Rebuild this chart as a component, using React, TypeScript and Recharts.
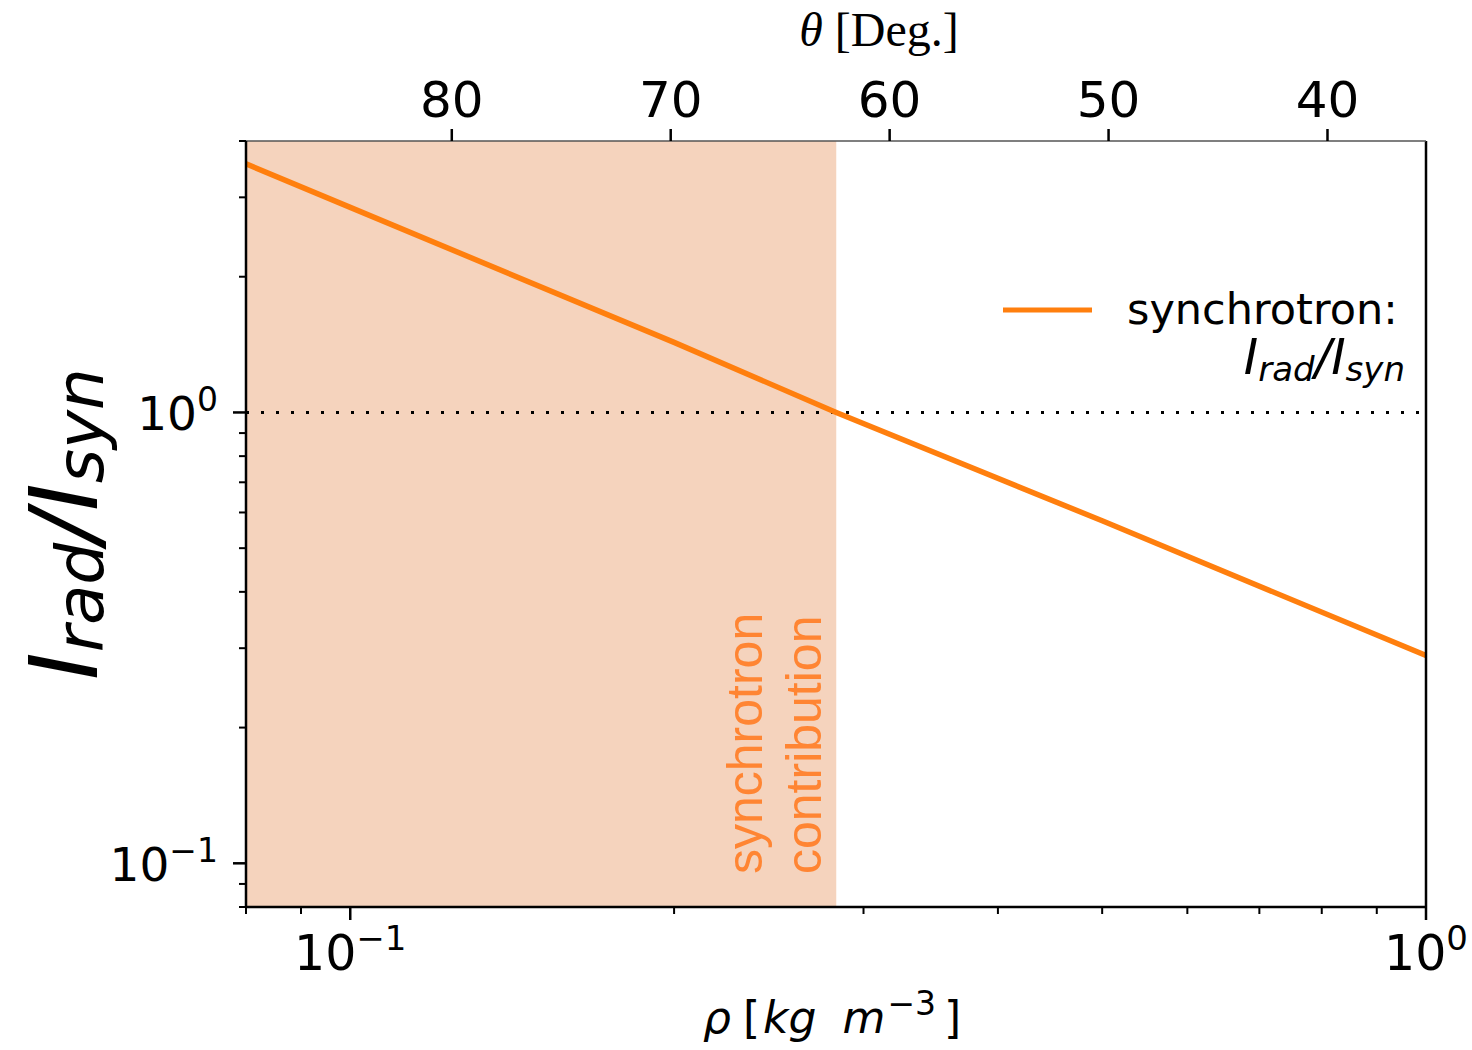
import React from 'react';
import { ComposedChart, Line, XAxis, YAxis, ReferenceArea, ReferenceLine, Legend } from 'recharts';

// ---- data ----
const rhoValues = [0.08, 0.1, 0.2, 0.283, 0.5, 1.0];
const ratioValues = [3.56, 2.85, 1.43, 1.0, 0.575, 0.289];
const xTicks = [0.08, 0.09, 0.1, 0.2, 0.3, 0.4, 0.5, 0.6, 0.7, 0.8, 0.9, 1];
const yTicks = [0.08, 0.09, 0.1, 0.2, 0.3, 0.4, 0.5, 0.6, 0.7, 0.8, 0.9, 1, 2, 3, 4];
const thetaTicks = [80, 70, 60, 50, 40];
const thetaDomain = [35.5, 89.4];
const xDomain = [0.08, 1];
const yDomain = [0.08, 4];
const synchrotronEdge = 0.283;
const unityLevel = 1;

const data = rhoValues.map((r, i) => ({ rho: r, ratio: ratioValues[i] }));
// helper rows that only anchor the secondary (top) theta axis
const thetaAnchor = thetaDomain.map((t) => ({ theta: t, anchor: unityLevel }));

const ORANGE = '#ff7f0e';
const SANS = 'DejaVu Sans';

const supText = (n: number) => (n < 0 ? '\u2212' + Math.abs(n) : String(n));
const isMajor = (v: number) => {
  const e = Math.log10(v);
  return Math.abs(e - Math.round(e)) < 1e-9;
};

function BottomTick(props: any) {
  const { x, y, payload } = props;
  const v = payload.value;
  const major = isMajor(v);
  const e = Math.round(Math.log10(v));
  return (
    <g>
      <line x1={x} x2={x} y1={y} y2={y + (major ? 13 : 7)} stroke="#000" strokeWidth={major ? 2.5 : 2} />
      {major && (
        <text x={x} y={y + 63} textAnchor="middle" fontFamily={SANS} fontSize={49} fill="#000">
          10<tspan fontSize={34} dy={-20}>{supText(e)}</tspan>
        </text>
      )}
    </g>
  );
}

function LeftTick(props: any) {
  const { x, y, payload } = props;
  const v = payload.value;
  const major = isMajor(v);
  const e = Math.round(Math.log10(v));
  return (
    <g>
      <line x1={x - (major ? 13 : 7)} x2={x} y1={y} y2={y} stroke="#000" strokeWidth={major ? 2.5 : 2} />
      {major && (
        <text x={x - 28} y={y + 18} textAnchor="end" fontFamily={SANS} fontSize={47} fill="#000">
          10<tspan fontSize={33} dy={-19}>{supText(e)}</tspan>
        </text>
      )}
    </g>
  );
}

function TopTick(props: any) {
  const { x, y, payload } = props;
  return (
    <g>
      <line x1={x} x2={x} y1={y - 12} y2={y} stroke="#000" strokeWidth={2.5} />
      <text x={x} y={y - 24} textAnchor="middle" fontFamily={SANS} fontSize={50} fill="#000">
        {payload.value}
      </text>
    </g>
  );
}

function YLabel(props: any) {
  const vb = props.viewBox || { x: 146, y: 141, width: 100, height: 766 };
  const cx = 97;
  const cy = vb.y + vb.height / 2;
  return (
    <text
      x={cx}
      y={cy}
      transform={`rotate(-90 ${cx} ${cy})`}
      textAnchor="middle"
      fontFamily={SANS}
      fontStyle="italic"
      fontSize={94}
      fill="#000"
    >
      I<tspan fontSize={66} dy={6}>rad</tspan>
      <tspan dy={-6}>/I</tspan>
      <tspan fontSize={66} dy={6}>syn</tspan>
    </text>
  );
}

function XLabel() {
  return (
    <text x={703} y={1033} textAnchor="start" fontFamily={SANS} fontSize={44} fill="#000">
      <tspan fontStyle="italic">ρ</tspan>
      <tspan dx={12}>[</tspan>
      <tspan fontStyle="italic" dx={3}>kg</tspan>
      <tspan fontStyle="italic" dx={26}>m</tspan>
      <tspan fontSize={33} dx={2} dy={-18}>−3</tspan>
      <tspan dx={8} dy={18}>]</tspan>
    </text>
  );
}

function TopLabel() {
  return (
    <text x={879} y={46} textAnchor="middle" fontFamily="Liberation Serif" fontSize={48} fill="#000">
      <tspan fontStyle="italic">θ</tspan>
      <tspan> [Deg.]</tspan>
    </text>
  );
}

function AreaLabel(props: any) {
  const vb = props.viewBox || { x: 246, y: 141, width: 589, height: 766 };
  const right = vb.x + vb.width;
  const bottom = vb.y + vb.height - 33;
  const x1 = right - 74;
  const x2 = right - 15;
  return (
    <g fontFamily="Liberation Sans" fontSize={50} fill="#ff8533">
      <text x={x1} y={bottom} transform={`rotate(-90 ${x1} ${bottom})`} textAnchor="start">
        synchrotron
      </text>
      <text x={x2} y={bottom} transform={`rotate(-90 ${x2} ${bottom})`} textAnchor="start">
        contribution
      </text>
    </g>
  );
}

function LegendBox() {
  return (
    <svg width={440} height={130} style={{ display: 'block' }}>
      <line x1={13} x2={102} y1={40} y2={40} stroke={ORANGE} strokeWidth={5} />
      <text x={137} y={54} fontFamily={SANS} fontSize={43} fill="#000">
        synchrotron:
      </text>
      <text x={415} y={104} textAnchor="end" fontFamily={SANS} fontStyle="italic" fontSize={49} fill="#000">
        I<tspan fontSize={34} dy={7}>rad</tspan>
        <tspan dy={-7}>/I</tspan>
        <tspan fontSize={34} dy={7}>syn</tspan>
      </text>
    </svg>
  );
}

export default function App() {
  return (
    <div style={{ position: 'absolute', left: 0, top: 0, width: 1472, height: 1050, background: '#fff' }}>
      <ComposedChart
        width={1472}
        height={1050}
        data={data}
        margin={{ top: 41, right: 46, bottom: 83, left: 146 }}
      >
        <XAxis
          dataKey="rho"
          type="number"
          scale="log"
          domain={xDomain}
          allowDataOverflow
          ticks={xTicks}
          interval={0}
          tick={BottomTick}
          tickSize={0}
          tickMargin={0}
          tickLine={false}
          height={60}
          axisLine={{ stroke: '#000', strokeWidth: 2.5 }}
          label={XLabel}
        />
        <XAxis
          xAxisId="top"
          dataKey="theta"
          orientation="top"
          type="number"
          scale="linear"
          domain={thetaDomain}
          allowDataOverflow
          reversed
          ticks={thetaTicks}
          interval={0}
          tick={TopTick}
          tickSize={0}
          tickMargin={0}
          tickLine={false}
          height={100}
          axisLine={{ stroke: '#555', strokeWidth: 1.5 }}
          label={TopLabel}
        />
        <YAxis
          type="number"
          scale="log"
          domain={yDomain}
          allowDataOverflow
          ticks={yTicks}
          interval={0}
          tick={LeftTick}
          tickSize={0}
          tickMargin={0}
          tickLine={false}
          width={100}
          axisLine={{ stroke: '#000', strokeWidth: 2.5 }}
          label={YLabel}
        />
        <ReferenceArea
          x1={xDomain[0]}
          x2={synchrotronEdge}
          fill="#f5d3bd"
          fillOpacity={1}
          stroke="none"
          ifOverflow="visible"
          label={AreaLabel}
        />
        <ReferenceLine
          y={unityLevel}
          stroke="#000"
          strokeWidth={3}
          strokeDasharray="3 12"
        />
        <Line
          xAxisId="top"
          data={thetaAnchor}
          dataKey="anchor"
          stroke="none"
          strokeWidth={0}
          dot={false}
          activeDot={false}
          legendType="none"
          isAnimationActive={false}
        />
        <Line
          dataKey="ratio"
          stroke={ORANGE}
          strokeWidth={5.5}
          dot={false}
          isAnimationActive={false}
          legendType="line"
        />
        <ReferenceLine x={xDomain[1]} stroke="#000" strokeWidth={2.5} ifOverflow="visible" />
        <Legend
          layout="horizontal"
          verticalAlign="middle"
          align="center"
          content={LegendBox}
          wrapperStyle={{ position: 'absolute', left: 990, top: 270, width: 440, height: 130 }}
        />
      </ComposedChart>
    </div>
  );
}
